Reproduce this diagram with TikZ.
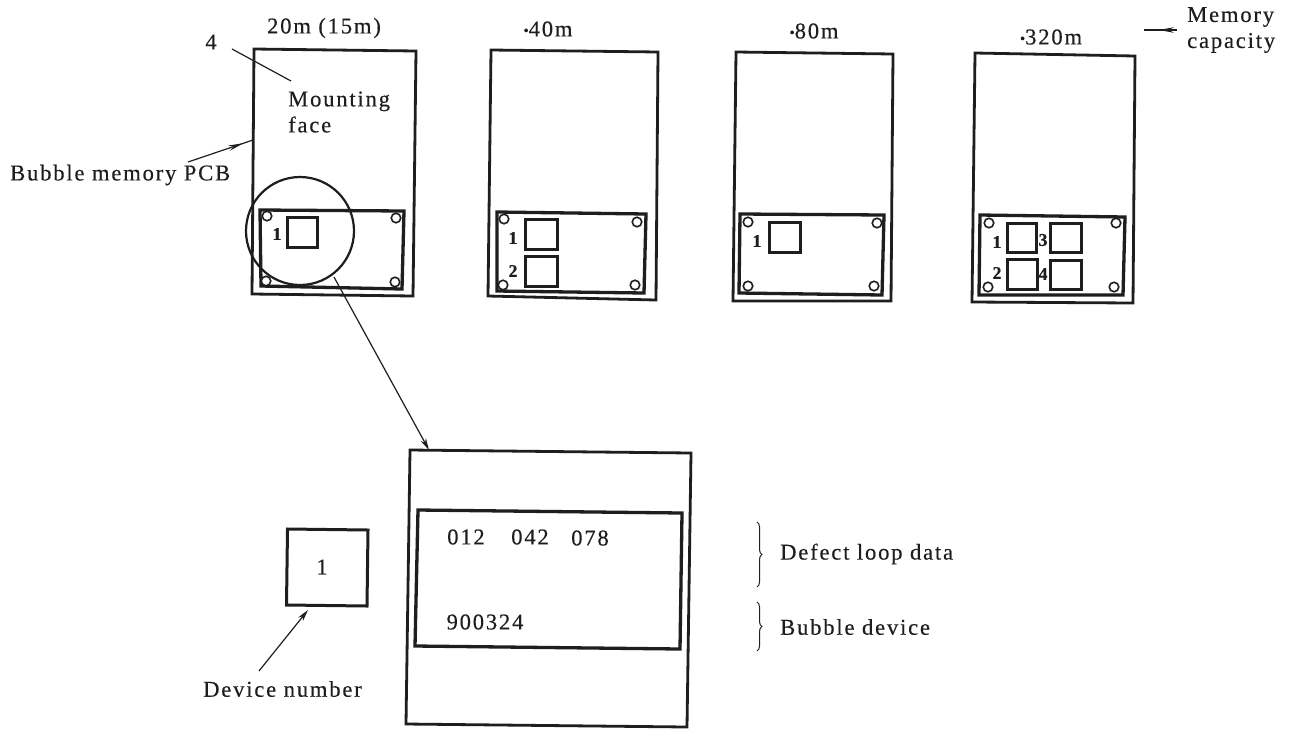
\documentclass[tikz,border=0pt]{standalone}
\usepackage{fontspec}
\setmainfont[LetterSpace=8,FakeBold=0.25]{Liberation Serif}
\usetikzlibrary{arrows.meta,decorations.markings,decorations.pathreplacing}
\definecolor{ink}{HTML}{1E1E1E}
\newcommand{\capdot}{{\fontsize{15}{15}\selectfont\raisebox{1pt}{•}}}
\tikzset{
  outerbox/.style={draw=ink,line width=2.8pt,line join=miter},
  innerbox/.style={draw=ink,line width=3.3pt,line join=miter},
  chip/.style={draw=ink,line width=3pt},
  hole/.style={draw=ink,line width=1.6pt,circle,fill=white,minimum size=9.5pt,inner sep=0pt},
  label/.style={text=ink,inner sep=0pt,font=\fontsize{22.6}{26}\selectfont},
  small/.style={text=ink,inner sep=0pt,font=\fontsize{18}{20}\selectfont\bfseries},
  thinline/.style={draw=ink,line width=1.2pt},
  tiparrow/.style={thinline,-{Stealth[length=12pt,width=6pt]}},
  midarrow/.style={thinline,postaction={decorate,decoration={markings,mark=at position #1 with {\arrow{Stealth[length=15pt,width=5.5pt]}}}}},
  bracebar/.style={draw=ink,line width=1pt,decorate,decoration={brace,amplitude=5pt}}
}
\begin{document}
\begin{tikzpicture}[x=1pt,y=-1pt]
\useasboundingbox[fill=white] (0,0) rectangle (1292,729);

% Board 1
\draw[outerbox] (254,49) -- (416,51) -- (413,296) -- (252,294) -- cycle;
\draw[innerbox] (260,210) -- (404,211) -- (402,289) -- (261,286) -- cycle;
\draw[chip] (287,217) rectangle (317,247);
\node[hole] (h11) at (267,216) {};
\node[hole] (h12) at (396,218) {};
\node[hole] (h13) at (266,281) {};
\node[hole] (h14) at (395,282) {};
\node[small] (n11) at (277,234) {1};
\node[draw=ink,line width=2.2pt,circle,minimum size=108pt,inner sep=0pt] (lens) at (300,231) {};

% Board 2
\draw[outerbox] (491,50) -- (658,52) -- (656,300) -- (488,296) -- cycle;
\draw[innerbox] (497,212) -- (646,214) -- (644,293) -- (497,291) -- cycle;
\draw[chip] (525,219) rectangle (557,249);
\draw[chip] (525,256) rectangle (557,286);
\node[hole] (h21) at (504,219) {};
\node[hole] (h22) at (637,222) {};
\node[hole] (h23) at (503,285) {};
\node[hole] (h24) at (635,285) {};
\node[small] (n21) at (513,238) {1};
\node[small] (n22) at (513,271) {2};

% Board 3
\draw[outerbox] (736,52) -- (893,54) -- (891,301) -- (733,301) -- cycle;
\draw[innerbox] (740,214) -- (884,215) -- (882,295) -- (739,293) -- cycle;
\draw[chip] (769,222) rectangle (800,252);
\node[hole] (h31) at (748,222) {};
\node[hole] (h32) at (877,223) {};
\node[hole] (h33) at (748,286) {};
\node[hole] (h34) at (874,286) {};
\node[small] (n31) at (757,241) {1};

% Board 4
\draw[outerbox] (975,53) -- (1135,56) -- (1133,303) -- (972,302) -- cycle;
\draw[innerbox] (980,215) -- (1125,217) -- (1123,295) -- (979,295) -- cycle;
\draw[chip] (1007,223) rectangle (1036,252);
\draw[chip] (1050,223) rectangle (1081,252);
\draw[chip] (1007,259) rectangle (1037,289);
\draw[chip] (1050,260) rectangle (1081,289);
\node[hole] (h41) at (989,223) {};
\node[hole] (h42) at (1116,223) {};
\node[hole] (h43) at (988,287) {};
\node[hole] (h44) at (1114,287) {};
\node[small] (n41) at (997,242) {1};
\node[small] (n42) at (997,273) {2};
\node[small] (n43) at (1043,240) {3};
\node[small] (n44) at (1043,274) {4};

% Titles
\node[label] (t1) at (324,28) {20m (15m)};
\node[label] (t2) at (548,29) {\capdot 40m};
\node[label] (t3) at (814,31) {\capdot 80m};
\node[label] (t4) at (1051,37) {\capdot 320m};
\node[label,align=left,anchor=west] (cap) at (1187,30) {Memory\\capacity};

% Left labels
\node[label] (four) at (211,42) {4};
\node[label,align=left,anchor=west] (mount) at (288,112) {Mounting\\face};
\node[label,anchor=west] (pcb) at (10,175) {Bubble memory PCB};

% Detail panel
\draw[outerbox] (410,450) -- (691,453) -- (687,727) -- (406,724) -- cycle;
\draw[innerbox] (418,510) -- (682,513) -- (680,649) -- (415,646) -- cycle;
\draw[chip] (287.5,529) -- (368,530) -- (367,606) -- (286.5,605) -- cycle;
\node[label] (dn) at (322,567) {1};
\node[label] (d1) at (466,537) {012};
\node[label] (d2) at (530,537) {042};
\node[label] (d3) at (590,538) {078};
\node[label] (d4) at (485,622) {900324};
\node[label,anchor=west] (defect) at (780,554) {Defect loop data};
\node[label,anchor=west] (bubble) at (780,627) {Bubble device};
\node[label,anchor=west] (devnum) at (203,689) {Device number};

% Connector ends
\coordinate (fourA) at (232,49);
\coordinate (fourB) at (291,81);
\coordinate (pcbA) at (188,162);
\coordinate (pcbB) at (253,140);
\coordinate (capA) at (1177,30);
\coordinate (capB) at (1144,30);
\coordinate (lensA) at (334,277);
\coordinate (panelTop) at (429,450);
\coordinate (devA) at (259,671);
\coordinate (devB) at (308,610);
\coordinate (b1a) at (757,522);
\coordinate (b1b) at (757,587);
\coordinate (b2a) at (757,602);
\coordinate (b2b) at (757,651);

% Connectors
\draw[thinline] (fourA) -- (fourB);
\draw[midarrow=0.85] (pcbA) -- (pcbB);
\draw[midarrow=0.55] (capA) -- (capB);
\draw[tiparrow] (lensA) -- (panelTop);
\draw[tiparrow] (devA) -- (devB);
\draw[bracebar] (b1a) -- (b1b);
\draw[bracebar] (b2a) -- (b2b);
\end{tikzpicture}
\end{document}
